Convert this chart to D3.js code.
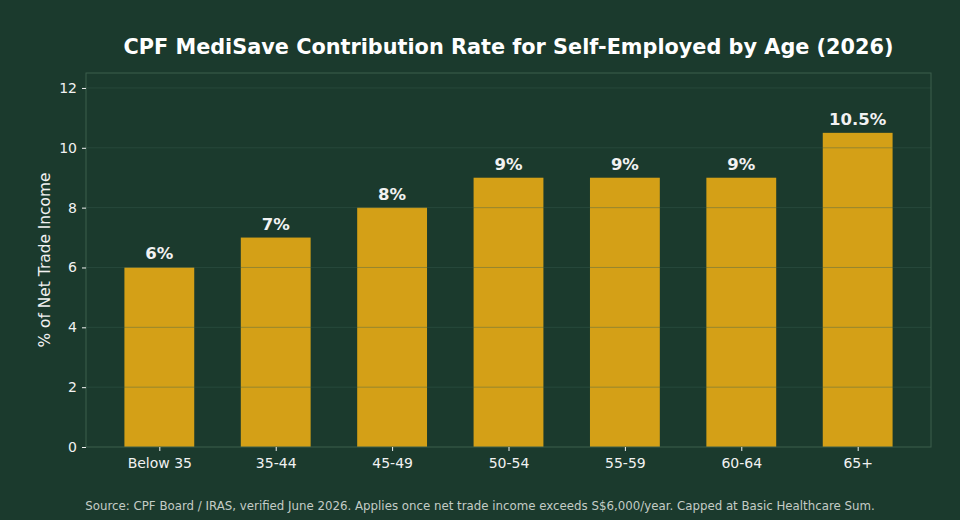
<!DOCTYPE html>
<html>
<head>
<meta charset="utf-8">
<script src="https://cdn.jsdelivr.net/npm/d3@7"></script>
<style>
  html, body { margin: 0; padding: 0; background: #1b3a2d; }
  svg { display: block; font-family: "DejaVu Sans", sans-serif; }
</style>
</head>
<body>
<svg id="chart" width="960" height="520"></svg>
<script>
const ageGroups = ['Below 35', '35-44', '45-49', '50-54', '55-59', '60-64', '65+'];
const rates = [6, 7, 8, 9, 9, 9, 10.5];
const yTicks = [0, 2, 4, 6, 8, 10, 12];

const W = 960, H = 520;
const margin = {left: 86, right: 29, top: 73, bottom: 73};
const colors = {
  bg: '#1b3a2d',
  bar: '#d4a017',
  grid: '#3a6050',
  spine: '#3d5e4d',
  text: '#f2f2f2',
  foot: '#c4ccc6'
};

const svg = d3.select('#chart');

svg.append('rect').attr('width', W).attr('height', H).style('fill', colors.bg);

// bar width 0.6, 5% margins like matplotlib
const x = d3.scaleLinear()
  .domain([-0.63, ageGroups.length - 1 + 0.63])
  .range([margin.left, W - margin.right]);
const y = d3.scaleLinear()
  .domain([0, 12.5])
  .range([H - margin.bottom, margin.top]);
const barW = x(0.6) - x(0);

svg.selectAll('.bar')
  .data(rates)
  .enter()
  .append('rect')
  .classed('bar', true)
  .attr('x', (d, i) => x(i) - barW / 2)
  .attr('y', d => y(d))
  .attr('width', barW)
  .attr('height', d => y(0) - y(d))
  .style('fill', colors.bar);

// grid drawn above bars
svg.append('g')
  .selectAll('line')
  .data(yTicks.slice(1))
  .enter()
  .append('line')
  .attr('x1', margin.left)
  .attr('x2', W - margin.right)
  .attr('y1', d => y(d))
  .attr('y2', d => y(d))
  .style('stroke', colors.grid)
  .style('stroke-opacity', 0.4)
  .style('stroke-width', 1);

// frame
svg.append('rect')
  .attr('x', margin.left)
  .attr('y', margin.top)
  .attr('width', W - margin.left - margin.right)
  .attr('height', H - margin.top - margin.bottom)
  .style('fill', 'none')
  .style('stroke', colors.spine)
  .style('stroke-width', 1);

const yAxis = svg.append('g')
  .attr('transform', `translate(${margin.left},0)`)
  .call(d3.axisLeft(y).tickValues(yTicks).tickSize(4).tickPadding(5));
yAxis.select('.domain').remove();
yAxis.selectAll('line').style('stroke', colors.text);
yAxis.selectAll('text').style('fill', colors.text).style('font-size', '14px')
  .style('font-family', '"DejaVu Sans", sans-serif');

const xAxis = svg.append('g')
  .attr('transform', `translate(0,${H - margin.bottom})`)
  .call(d3.axisBottom(x).tickValues(d3.range(ageGroups.length))
    .tickFormat(i => ageGroups[i]).tickSize(4).tickPadding(7));
xAxis.select('.domain').remove();
xAxis.selectAll('line').style('stroke', colors.text);
xAxis.selectAll('text').style('fill', colors.text).style('font-size', '14px')
  .style('font-family', '"DejaVu Sans", sans-serif');

// value labels
svg.selectAll('.val')
  .data(rates)
  .enter()
  .append('text')
  .classed('val', true)
  .attr('x', (d, i) => x(i))
  .attr('y', d => y(d) - 8)
  .attr('text-anchor', 'middle')
  .style('fill', colors.text)
  .style('font-size', '16.5px')
  .style('font-weight', 'bold')
  .text(d => d + '%');

svg.append('text')
  .attr('transform', `translate(50,${(margin.top + H - margin.bottom) / 2}) rotate(-90)`)
  .attr('text-anchor', 'middle')
  .style('fill', colors.text)
  .style('font-size', '15.4px')
  .text('% of Net Trade Income');

svg.append('text')
  .attr('x', (margin.left + W - margin.right) / 2)
  .attr('y', 54)
  .attr('text-anchor', 'middle')
  .style('fill', '#ffffff')
  .style('font-size', '20.8px')
  .style('font-weight', 'bold')
  .text('CPF MediSave Contribution Rate for Self-Employed by Age (2026)');

svg.append('text')
  .attr('x', 480)
  .attr('y', 510)
  .attr('text-anchor', 'middle')
  .style('fill', colors.foot)
  .style('font-size', '11.8px')
  .text('Source: CPF Board / IRAS, verified June 2026. Applies once net trade income exceeds S$6,000/year. Capped at Basic Healthcare Sum.');
</script>
</body>
</html>
